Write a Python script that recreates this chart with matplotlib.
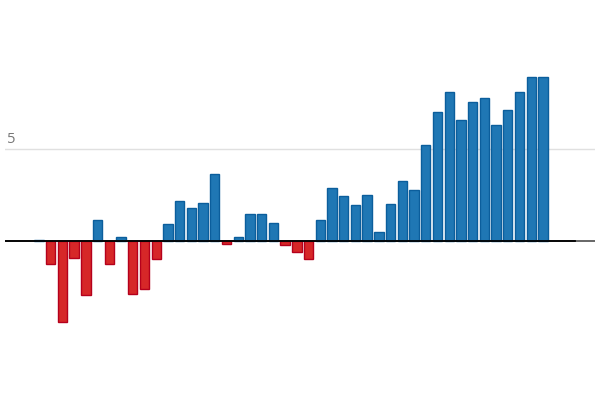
import matplotlib
matplotlib.use("Agg")
import matplotlib.pyplot as plt
import numpy as np

values = [0.05, -1.25, -4.4, -0.92, -2.93, 1.14, -1.25, 0.22, -2.88, -2.57,
          -0.98, 0.92, 2.17, 1.79, 2.07, 3.64, -0.16, 0.22, 1.47, 1.47,
          0.98, -0.22, -0.6, -0.98, 1.14, 2.88, 2.45, 1.96, 2.5, 0.49,
          2.01, 3.26, 2.77, 5.22, 7.01, 8.10, 6.58, 7.55, 7.77, 6.30,
          7.12, 8.10, 8.91, 8.91]
ytick_values = [5]
ytick_labels = ["5"]

x = np.arange(len(values))
pos_face, pos_edge = "#1f77b4", "#0b5e9c"
neg_face, neg_edge = "#d62728", "#b5001c"
faces = [pos_face if v >= 0 else neg_face for v in values]
edges = [pos_edge if v >= 0 else neg_edge for v in values]

fig = plt.figure(figsize=(6, 4), dpi=100)
ax = fig.add_axes([5/600, 0, 590/600, 1])
ax.set_xlim(-2.9, 47.44)
ax.set_ylim(-8.62, 13.11)

ax.axhline(5, color="#e0e0e0", lw=1, zorder=0)
ax.axhline(0, color="#5a5a5a", lw=1.3, zorder=1)
ax.bar(x, values, width=0.8, color=faces, edgecolor=edges, linewidth=1, zorder=2)
ax.axhline(0, xmin=0, xmax=570/590, color="black", lw=1.3, zorder=3)

for v, lab in zip(ytick_values, ytick_labels):
    ax.text(-2.7, v + 0.15, lab, fontsize=10.5, color="#777777",
            family="Open Sans", ha="left", va="bottom")

ax.axis("off")
fig.savefig("out.png", dpi=100)
